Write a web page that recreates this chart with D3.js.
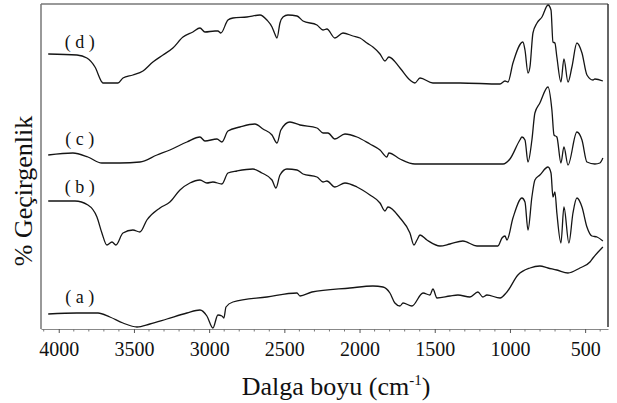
<!DOCTYPE html>
<html>
<head>
<meta charset="utf-8">
<script src="https://cdn.jsdelivr.net/npm/d3@7"></script>
</head>
<body style="margin:0;background:#fff">
<svg id="chart" width="617" height="403"></svg>
<script>
// wavenumbers (cm-1) and transmittance readings, one pair of arrays per spectrum
var wnA = [4070,3879,3739,3660,3573,3480,3394,3281,3148,3061,3015,2975,2942,2915,2902,2888,2842,2616,2416,2396,2317,2064,1911,1844,1798,1765,1731,1711,1652,1578,1532,1512,1485,1399,1346,1266,1213,1180,1153,1066,1020,947,867,801,747,688,614,535,468,448,382];
var tA  = [15,16,16,12,6,2,5,10,16,19,13,1,14,13,11,22,27,32,36,33,37,41,43,42,36,26,23,26,23,36,34,40,31,33,34,32,37,32,34,31,37,54,61,63,61,59,56,61,67,71,82];

var wnB = [4070,3892,3806,3746,3713,3680,3646,3620,3573,3507,3460,3414,3327,3261,3194,3128,3061,3015,2975,2915,2875,2815,2709,2649,2582,2556,2529,2483,2416,2376,2283,2243,2217,2164,2097,2017,1931,1864,1831,1811,1731,1665,1638,1618,1598,1552,1465,1399,1313,1219,1080,1053,1033,1020,980,920,900,880,854,834,801,747,727,714,701,688,661,641,608,581,555,521,488,455,421,382];
var tB  = [128,128,124,112,96,84,87,84,96,99,97,109,121,127,139,146,149,146,147,145,156,158,160,156,149,141,154,160,159,155,152,147,148,142,146,142,134,126,118,122,111,96,84,89,94,89,83,85,88,83,83,91,93,89,111,131,127,99,132,149,154,162,156,132,137,116,86,122,86,116,131,122,102,93,92,88];

var wnC = [4070,3906,3806,3713,3593,3460,3347,3261,3148,3061,3028,2948,2915,2875,2795,2696,2642,2582,2549,2523,2463,2396,2283,2243,2210,2164,2097,2017,1931,1864,1818,1805,1731,1632,1512,1286,1046,1000,934,920,900,880,854,834,801,747,721,707,688,661,641,614,555,521,488,435,402,382];
var tC  = [174,176,172,166,166,167,174,179,187,192,188,190,187,198,202,205,200,194,186,199,207,204,201,196,196,190,195,192,185,179,172,176,170,165,165,165,165,170,189,192,189,167,189,216,226,242,219,194,192,166,182,164,197,189,167,165,166,171];

var wnD = [4070,3879,3813,3759,3713,3706,3606,3573,3507,3440,3374,3307,3241,3174,3108,3061,3028,2961,2942,2922,2875,2842,2749,2662,2616,2582,2563,2549,2529,2509,2476,2416,2376,2283,2243,2217,2164,2110,2044,1997,1951,1911,1864,1831,1805,1731,1665,1632,1598,1512,1332,1066,1033,1013,980,914,900,880,867,847,820,787,747,727,714,701,688,661,641,614,588,555,521,488,448,435,382];
var tD  = [275,274,271,262,247,246,246,251,254,258,267,274,281,292,297,301,297,298,298,296,309,311,312,314,309,302,295,291,306,312,314,313,308,304,299,300,291,296,293,291,286,282,275,268,272,261,249,246,251,246,246,245,248,247,266,287,279,256,262,296,306,312,324,319,287,286,272,247,270,247,262,286,276,254,249,250,248];

var seriesNames = ["( a )","( b )","( c )","( d )"];
var labelY = [26,136,184,281];   // transmittance level where each tag sits
var xTicks = [4000,3500,3000,2500,2000,1500,1000,500];
var minorTicks = d3.range(4100,300,-100);

var FONT = "Liberation Serif";
var svg = d3.select("#chart");
var mLeft = 41, mRight = 608, mTop = 4, mBottom = 329;

var x = d3.scaleLinear().domain([4118, 348]).range([mLeft, mRight]);
var y = d3.scaleLinear().domain([0, 325]).range([mBottom, mTop]);

// frame
svg.append("line").attr("x1",mLeft).attr("x2",mRight).attr("y1",mTop).attr("y2",mTop)
  .attr("stroke","#777").attr("stroke-width",1.5);
svg.append("line").attr("x1",mLeft).attr("x2",mLeft).attr("y1",mTop).attr("y2",mBottom)
  .attr("stroke","#777").attr("stroke-width",1.5);
svg.append("line").attr("x1",mRight).attr("x2",mRight).attr("y1",mTop).attr("y2",mBottom-2)
  .attr("stroke","#333").attr("stroke-width",1.5);

// bottom axis
var axis = d3.axisBottom(x).tickValues(xTicks).tickFormat(d3.format("d"))
  .tickSize(4).tickSizeOuter(0).tickPadding(9);
var gx = svg.append("g").attr("transform","translate(0,"+mBottom+")").call(axis);
gx.select(".domain").attr("stroke","#888").attr("stroke-width",1.2);
gx.selectAll(".tick line").attr("stroke","#555");
gx.selectAll(".tick text").attr("fill","#111")
  .style("font-family",FONT).style("font-size","20px");

svg.append("g").selectAll("line").data(minorTicks.filter(function(v){return xTicks.indexOf(v)<0;}))
  .enter().append("line")
  .attr("x1",function(d){return x(d);}).attr("x2",function(d){return x(d);})
  .attr("y1",mBottom).attr("y2",mBottom+2.5)
  .attr("stroke","#777");

// spectra
var line = d3.line()
  .x(function(d){return x(d[0]);})
  .y(function(d){return y(d[1]);})
  .curve(d3.curveMonotoneX);

var all = [[wnA,tA],[wnB,tB],[wnC,tC],[wnD,tD]];
all.forEach(function(s){
  var pts = s[0].map(function(w,i){return [w, s[1][i]];});
  svg.append("path").attr("d", line(pts))
    .attr("fill","none").attr("stroke","#151515").attr("stroke-width",1.3);
});

// series tags
seriesNames.forEach(function(n,i){
  svg.append("text").attr("x", x(3860)).attr("y", y(labelY[i]))
    .attr("text-anchor","middle").attr("fill","#111")
    .style("font-family",FONT).style("font-size","18px").text(n);
});

// axis titles
var xt = svg.append("text").attr("x",336).attr("y",395).attr("text-anchor","middle").attr("fill","#111")
  .style("font-family",FONT).style("font-size","26px");
xt.append("tspan").text("Dalga boyu (cm");
xt.append("tspan").style("font-size","15px").attr("dy",-10).text("-1");
xt.append("tspan").attr("dy",10).text(")");

svg.append("text").attr("transform","translate(32,191) rotate(-90)")
  .attr("text-anchor","middle").attr("fill","#111")
  .style("font-family",FONT).style("font-size","26px").text("% Geçirgenlik");
</script>
</body>
</html>
